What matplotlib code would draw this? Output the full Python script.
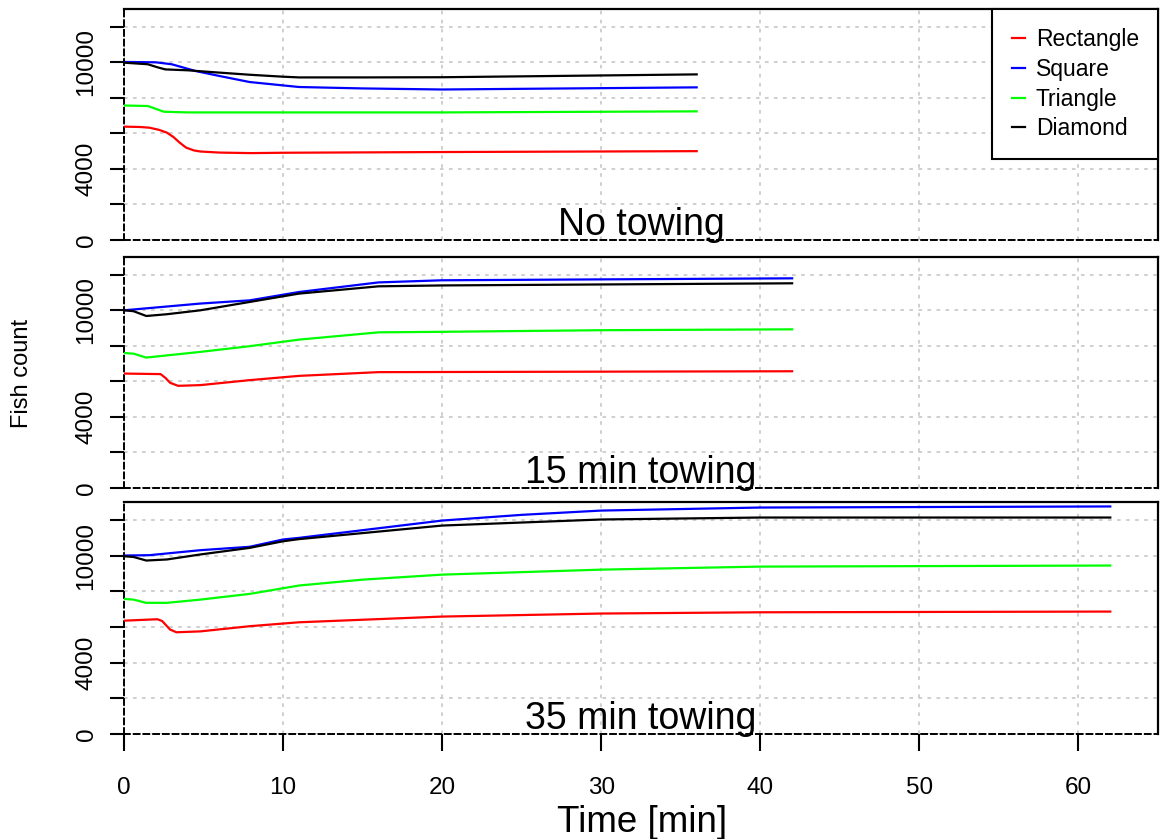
import matplotlib.pyplot as plt

plt.rcParams['font.family'] = ['Liberation Sans', 'DejaVu Sans']

# Fish count over time, three towing scenarios
series_names = ['Rectangle', 'Square', 'Triangle', 'Diamond']
series_colors = ['#ff0000', '#0000ff', '#00ff00', '#000000']
panel_titles = ['No towing', '15 min towing', '35 min towing']

# --- No towing ---
t1_rect = [0, 1.0, 1.6, 2.2, 2.7, 3.1, 3.5, 3.9, 4.4, 4.8, 6.0, 8.0, 10, 20, 36]
y1_rect = [6380, 6360, 6320, 6200, 6040, 5800, 5480, 5200, 5040, 4980, 4920, 4890, 4910, 4950, 5000]
t1_sq = [0, 2, 3, 4.5, 6, 7.9, 10, 11, 15, 20, 36]
y1_sq = [10020, 10000, 9890, 9510, 9230, 8890, 8700, 8610, 8530, 8470, 8590]
t1_tri = [0, 1.5, 2.1, 2.5, 4, 20, 36]
y1_tri = [7570, 7540, 7350, 7220, 7180, 7180, 7240]
t1_dia = [0, 1.5, 2.1, 2.6, 4, 6, 7.9, 10, 11, 15, 20, 36]
y1_dia = [9980, 9890, 9720, 9600, 9550, 9420, 9300, 9190, 9150, 9150, 9160, 9320]

# --- 15 min towing ---
t2_rect = [0, 2.3, 2.6, 2.9, 3.4, 4.8, 7.9, 11, 16, 42]
y2_rect = [6440, 6410, 6200, 5920, 5750, 5790, 6070, 6310, 6520, 6570]
t2_sq = [0, 4.8, 7.9, 11, 16, 20, 30, 42]
y2_sq = [10000, 10380, 10560, 11030, 11570, 11690, 11740, 11800]
t2_tri = [0, 0.6, 1.4, 4.8, 7.9, 11, 16, 20, 30, 42]
y2_tri = [7600, 7560, 7340, 7660, 7980, 8350, 8760, 8790, 8880, 8930]
t2_dia = [0, 0.6, 1.4, 2.7, 4.8, 7.9, 11, 16, 20, 42]
y2_dia = [10000, 9950, 9680, 9780, 10000, 10470, 10940, 11350, 11400, 11520]

# --- 35 min towing ---
t3_rect = [0, 2.1, 2.4, 2.9, 3.3, 4.8, 7.9, 11, 20, 30, 40, 62]
y3_rect = [6350, 6430, 6330, 5850, 5700, 5750, 6040, 6260, 6580, 6750, 6820, 6860]
t3_sq = [0, 1.6, 4.8, 7.9, 10, 11, 20, 25, 30, 40, 62]
y3_sq = [10000, 10020, 10300, 10490, 10900, 10990, 11960, 12280, 12520, 12690, 12750]
t3_tri = [0, 0.6, 1.4, 2.7, 4.8, 7.9, 11, 15, 20, 30, 40, 62]
y3_tri = [7570, 7530, 7350, 7350, 7530, 7850, 8320, 8650, 8930, 9210, 9380, 9440]
t3_dia = [0, 0.6, 1.4, 2.7, 4.8, 7.9, 10, 11, 20, 30, 40, 62]
y3_dia = [9960, 9920, 9720, 9780, 10060, 10430, 10800, 10920, 11680, 12020, 12130, 12130]

panels = [
    [(t1_rect, y1_rect), (t1_sq, y1_sq), (t1_tri, y1_tri), (t1_dia, y1_dia)],
    [(t2_rect, y2_rect), (t2_sq, y2_sq), (t2_tri, y2_tri), (t2_dia, y2_dia)],
    [(t3_rect, y3_rect), (t3_sq, y3_sq), (t3_tri, y3_tri), (t3_dia, y3_dia)],
]

y_ticks = [0, 2000, 4000, 6000, 8000, 10000, 12000]
y_ticklabels = ['0', '', '4000', '', '', '10000', '']
x_ticks = [0, 10, 20, 30, 40, 50, 60]

W, H = 1160, 839
fig = plt.figure(figsize=(W / 100, H / 100), dpi=100)

# panel boxes in pixels (top, bottom)
boxes = [(9, 240), (257, 488), (502, 734)]
left_px, right_px = 124, 1158

axes = []
for i, (top, bot) in enumerate(boxes):
    ax = fig.add_axes([left_px / W, 1 - bot / H, (right_px - left_px) / W, (bot - top) / H])
    axes.append(ax)
    ax.set_xlim(0, 65)
    ax.set_ylim(0, 13000)
    ax.set_xticks(x_ticks)
    ax.set_yticks(y_ticks)
    ax.set_yticklabels(y_ticklabels, rotation=90, va='center')
    ax.grid(True, color='#cccccc', linestyle=(0, (2, 3)), linewidth=1.3)
    ax.set_axisbelow(True)
    for side in ['top', 'right']:
        ax.spines[side].set_linewidth(1.6)
    for side in ['left', 'bottom']:
        ax.spines[side].set_linestyle((0, (3, 2)))
        ax.spines[side].set_linewidth(1.4)
    ax.tick_params(axis='y', length=10, width=1.5, labelsize=17.5, pad=9)
    ax.tick_params(axis='x', length=12, width=1.5, labelsize=17.5, pad=19)
    if i < 2:
        ax.tick_params(axis='x', length=0, labelbottom=False)

    for (t, y), name, col in zip(panels[i], series_names, series_colors):
        ax.plot(t, y, color=col, linewidth=1.6, label=name, zorder=3)

    ax.text(32.5, 280, panel_titles[i], ha='center', va='baseline', fontsize=27)

leg = axes[0].legend(loc='upper right', bbox_to_anchor=(1, 1), borderaxespad=0,
                     fontsize=16.5, frameon=True, fancybox=False, framealpha=1,
                     edgecolor='black', handlelength=0.6, handletextpad=0.45,
                     labelspacing=0.29, borderpad=0.84)
leg.get_frame().set_linewidth(1.5)
leg.set_zorder(5)

fig.text(642 / W, 1 - 822 / H, 'Time [min]', ha='center', va='center', fontsize=26.5)
fig.text(22 / W, 1 - 373 / H, 'Fish count', ha='center', va='center', rotation=90, fontsize=17)

fig.savefig('out.png', dpi=100)
